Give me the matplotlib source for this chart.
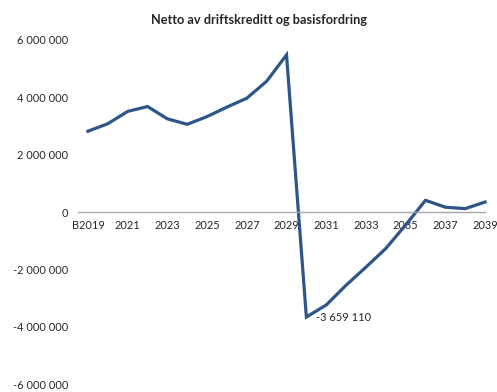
import numpy as np
import matplotlib
matplotlib.use('Agg')
import matplotlib.pyplot as plt

plt.rcParams['font.family'] = ['Lato', 'DejaVu Sans']

years = ['B2019'] + [str(y) for y in range(2020, 2040)]
values = [2820000, 3080000, 3510000, 3680000, 3250000, 3060000, 3330000,
          3660000, 3970000, 4560000, 5480000, -3659110, -3240000, -2550000,
          -1920000, -1270000, -450000, 410000, 170000, 120000, 350000]
yticks = [-6000000, -4000000, -2000000, 0, 2000000, 4000000, 6000000]

def fmt(v):
    return '{:,}'.format(int(v)).replace(',', ' ')

fig = plt.figure(figsize=(4.97, 3.92), dpi=100)
ax = fig.add_axes([0.157, 0.02, 0.819, 0.878])

x = np.arange(len(years))
ax.plot(x, values, color='#2E5587', lw=2.3, clip_on=False, solid_joinstyle='miter')

ax.set_xlim(-0.5, 20.0)
ax.set_ylim(-6000000, 6000000)
ax.set_yticks(yticks)
ax.set_yticklabels([fmt(v) for v in yticks])
ax.set_xticks(x[::2])
ax.set_xticklabels(years[::2])

for s in ['top', 'right', 'left']:
    ax.spines[s].set_visible(False)
ax.spines['bottom'].set_position(('data', 0))
ax.spines['bottom'].set_color('#A6A6A6')
ax.spines['bottom'].set_linewidth(1)
ax.tick_params(axis='both', length=0, labelsize=7.9, colors='#262626')
ax.tick_params(axis='y', pad=7)
ax.tick_params(axis='x', pad=6)

i = 11
ax.annotate(fmt(values[i]), (x[i], values[i]), xytext=(7, 0),
            textcoords='offset points', ha='left', va='center',
            fontsize=7.9, color='#262626')

fig.text(0.521, 0.948, 'Netto av driftskreditt og basisfordring',
         ha='center', va='center', fontsize=9.2, fontweight='bold', color='#262626')

fig.savefig('out.png', dpi=100)
